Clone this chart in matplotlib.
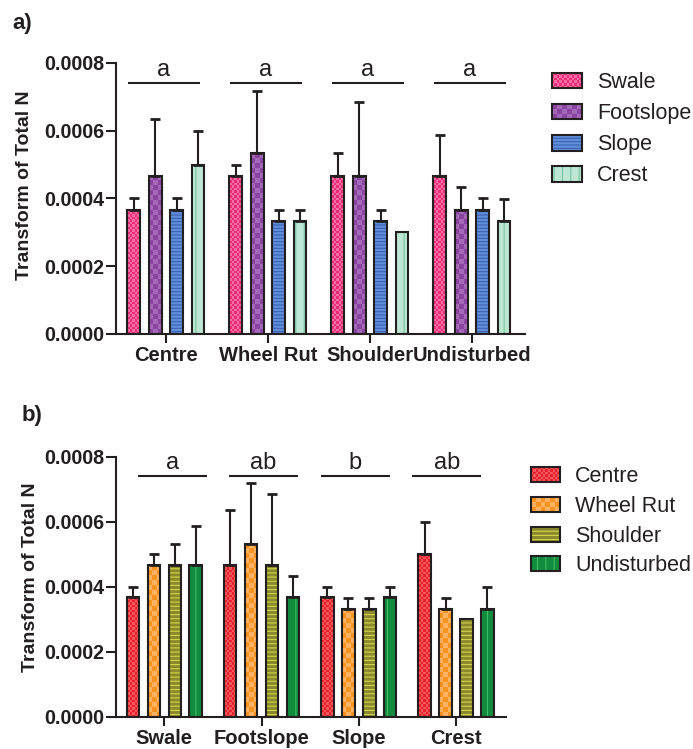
import numpy as np
import matplotlib
matplotlib.use('Agg')
import matplotlib.pyplot as plt
from matplotlib.colors import to_rgb
from matplotlib.legend_handler import HandlerBase
from matplotlib.patches import Rectangle
from matplotlib.ticker import FormatStrFormatter, MultipleLocator

plt.rcParams['font.family'] = ['Liberation Sans', 'DejaVu Sans']
plt.rcParams['hatch.linewidth'] = 0.8

DARK = '#231F20'

positions = ['Centre', 'Wheel Rut', 'Shoulder', 'Undisturbed']
sites = ['Swale', 'Footslope', 'Slope', 'Crest']

# transform of total N, one list per site, values in order of positions
swale_mean = [0.000367, 0.000467, 0.000467, 0.000467]
footslope_mean = [0.000467, 0.000533, 0.000467, 0.000367]
slope_mean = [0.000367, 0.000333, 0.000333, 0.000367]
crest_mean = [0.000500, 0.000333, 0.000300, 0.000333]

# upper error bar length
swale_err = [0.000033, 0.000033, 0.000066, 0.000120]
footslope_err = [0.000168, 0.000185, 0.000217, 0.000066]
slope_err = [0.000033, 0.000032, 0.000032, 0.000033]
crest_err = [0.000098, 0.000032, 0.0, 0.000065]

letters_a = ['a', 'a', 'a', 'a']
letters_b = ['a', 'ab', 'b', 'ab']

means = np.array([swale_mean, footslope_mean, slope_mean, crest_mean])
errs = np.array([swale_err, footslope_err, slope_err, crest_err])

site_styles = [
    dict(kind='checker', base='#EC2C78', alt='#F36CA2', cell=2.5),
    dict(kind='checker', base='#8A45A0', alt='#A567B9', cell=5),
    dict(kind='hatch', base='#5E8FD8', alt='#3E5FB5', hatch='-----'),
    dict(kind='hatch', base='#BEE6D5', alt='#72C59E', hatch='||'),
]
pos_styles = [
    dict(kind='checker', base='#E8232B', alt='#F0565C', cell=2.5),
    dict(kind='checker', base='#F7931E', alt='#FBB262', cell=5),
    dict(kind='hatch', base='#8A892B', alt='#D5D44C', hatch='----'),
    dict(kind='hatch', base='#118B3D', alt='#3DBE64', hatch='||'),
]


class Swatch:
    def __init__(self, style):
        self.style = style


class SwatchHandler(HandlerBase):
    def create_artists(self, legend, orig_handle, xdescent, ydescent,
                       width, height, fontsize, trans):
        st = orig_handle.style
        x0, y0 = -xdescent, -ydescent
        arts = []
        if st['kind'] == 'checker':
            arts.append(Rectangle((x0, y0), width, height, facecolor=st['base'],
                                  linewidth=0, transform=trans))
            c = st['cell'] * 0.72
            nx = max(1, int(round(width / c)))
            ny = max(1, int(round(height / c)))
            cw, ch = width / nx, height / ny
            for i in range(ny):
                for j in range(nx):
                    if (i + j) % 2:
                        arts.append(Rectangle((x0 + j * cw, y0 + i * ch), cw, ch,
                                              facecolor=st['alt'], linewidth=0,
                                              transform=trans))
        else:
            arts.append(Rectangle((x0, y0), width, height, facecolor=st['base'],
                                  edgecolor=st['alt'], hatch=st['hatch'],
                                  linewidth=0, transform=trans))
        arts.append(Rectangle((x0, y0), width, height, fill=False,
                              edgecolor=DARK, linewidth=1.5, transform=trans))
        return arts


def draw_panel(ax, groups, values, errors, styles, letters, xlim, width, pitch,
               line_shift):
    ax.set_xlim(*xlim)
    ax.set_ylim(0, 0.0008)
    ppx = ax.bbox.width / (xlim[1] - xlim[0])
    ppy = ax.bbox.height / 0.0008
    x = np.arange(len(groups))
    n = len(values)
    for i in range(n):
        st = styles[i]
        xs = x + (i - (n - 1) / 2) * pitch
        vals = values[i]
        if st['kind'] == 'checker':
            bars = ax.bar(xs, vals, width, color=st['base'], linewidth=0, zorder=2)
            for r in bars:
                x0, w, h = r.get_x(), r.get_width(), r.get_height()
                nx = max(1, int(round(w * ppx / st['cell'])))
                ny = max(1, int(round(h * ppy / st['cell'])))
                ii, jj = np.indices((ny, nx))
                img = np.empty((ny, nx, 3))
                img[:] = to_rgb(st['base'])
                img[(ii + jj) % 2 == 1] = to_rgb(st['alt'])
                ax.imshow(img, extent=(x0, x0 + w, 0, h), origin='lower',
                          interpolation='nearest', aspect='auto', zorder=2.5)
        else:
            ax.bar(xs, vals, width, color=st['base'], edgecolor=st['alt'],
                   hatch=st['hatch'], linewidth=0, zorder=2)
        ax.bar(xs, vals, width, fill=False, edgecolor=DARK, linewidth=1.5, zorder=3)
        e = np.asarray(errors[i])
        keep = e > 0
        ax.errorbar(xs[keep], np.asarray(vals)[keep],
                    yerr=[np.zeros(keep.sum()), e[keep]], fmt='none',
                    ecolor=DARK, elinewidth=1.5, capsize=3.5, capthick=2, zorder=2.8)

    for g, let in enumerate(letters):
        c = g + line_shift[g]
        ax.plot([c - 0.355, c + 0.355], [0.000742, 0.000742], color=DARK, lw=1.5,
                clip_on=False, solid_capstyle='butt')
        ax.text(c, 0.000762, let, ha='center', va='baseline', fontsize=17,
                color=DARK)

    ax.set_xlim(*xlim)
    ax.set_ylim(0, 0.0008)
    ax.set_xticks(x)
    ax.set_xticklabels(groups, fontweight='bold', fontsize=14.5)
    ax.yaxis.set_major_locator(MultipleLocator(0.0002))
    ax.yaxis.set_major_formatter(FormatStrFormatter('%.4f'))
    for lab in ax.get_yticklabels():
        lab.set_fontweight('bold')
        lab.set_fontsize(14.2)
    ax.tick_params(axis='y', direction='out', length=7, width=1.5, color=DARK,
                   pad=1.5, labelcolor=DARK)
    ax.tick_params(axis='x', direction='out', length=6.5, width=1.5, color=DARK,
                   pad=2, labelcolor=DARK)
    for s in ['top', 'right']:
        ax.spines[s].set_visible(False)
    for s in ['left', 'bottom']:
        ax.spines[s].set_linewidth(1.5)
        ax.spines[s].set_color(DARK)


fig = plt.figure(figsize=(6.93, 7.49), dpi=100)

ax_a = fig.add_axes([0.1674, 0.5541, 0.590, 0.3618])
draw_panel(ax_a, positions, means, errs, site_styles, letters_a,
           (-0.49, 3.52), 0.125, 0.21, [-0.02, -0.02, -0.02, -0.02])

ax_b = fig.add_axes([0.1674, 0.0431, 0.5623, 0.3471])
draw_panel(ax_b, sites, means.T, errs.T, pos_styles, letters_b,
           (-0.497, 3.51), 0.129, 0.215, [0.08, 0.015, -0.035, -0.095])

# y labels placed in figure pixels
for xl, yl in [(16, 185), (22, 577)]:
    fig.text(xl / 693, 1 - yl / 749, 'Transform of Total N', rotation=90,
             ha='left', va='center', fontweight='bold', fontsize=14, color=DARK)

hm = {Swatch: SwatchHandler()}
fig.legend([Swatch(s) for s in site_styles], sites, handler_map=hm,
           loc='upper left', bbox_to_anchor=(0.796, 1 - 72 / 749), frameon=False,
           fontsize=15.5, handlelength=1.4, handleheight=0.75, handletextpad=0.72,
           labelspacing=0.47, borderpad=0, borderaxespad=0, labelcolor=DARK)
fig.legend([Swatch(s) for s in pos_styles], positions, handler_map=hm,
           loc='upper left', bbox_to_anchor=(0.766, 1 - 466 / 749), frameon=False,
           fontsize=15.5, handlelength=1.35, handleheight=0.7, handletextpad=0.7,
           labelspacing=0.41, borderpad=0, borderaxespad=0, labelcolor=DARK)

fig.text(12 / 693, 1 - 23 / 749, 'a)', fontweight='bold', fontsize=16,
         va='center', ha='left', color=DARK)
fig.text(22 / 693, 1 - 415 / 749, 'b)', fontweight='bold', fontsize=16,
         va='center', ha='left', color=DARK)

fig.savefig('out.png', dpi=100)
